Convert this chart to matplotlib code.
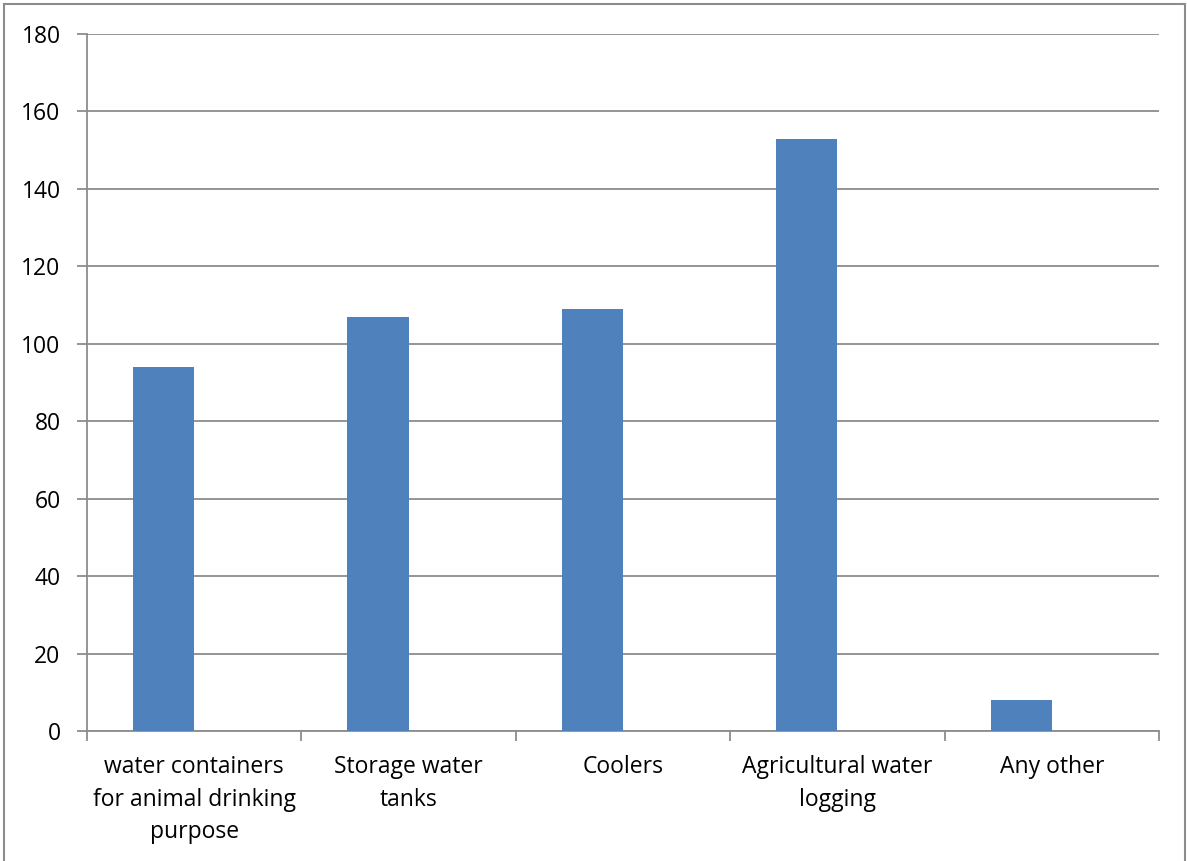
import matplotlib.pyplot as plt
from matplotlib.patches import Rectangle

categories = [
    "water containers\nfor animal drinking\npurpose",
    "Storage water\ntanks",
    "Coolers",
    "Agricultural water\nlogging",
    "Any other",
]
values = [94, 107, 109, 153, 8]
y_ticks = list(range(0, 181, 20))

plt.rcParams['font.family'] = ['Open Sans', 'DejaVu Sans']

W, H = 1187, 861
fig = plt.figure(figsize=(W / 100, H / 100), dpi=100)
ax = fig.add_axes([87 / W, 1 - 731 / H, (1159 - 87) / W, (731 - 34) / H])

bar_w = 1 / 3.5
xs = list(range(len(categories)))
ax.bar([x - bar_w for x in xs], values, width=bar_w, align='edge',
       color='#4F81BD', zorder=3)

grid_c = '#8C8C8C'
ax.set_xlim(-0.5, len(categories) - 0.5)
ax.set_ylim(0, 180)
ax.set_yticks(y_ticks)
ax.yaxis.grid(True, color=grid_c, linewidth=1.3, zorder=0)
ax.set_axisbelow(True)

ax.set_xticks([x - 0.5 for x in range(len(categories) + 1)])
ax.set_xticklabels([])
ax.set_xticks(xs, minor=True)
ax.set_xticklabels(categories, minor=True, fontsize=16.5, linespacing=1.46)
ax.tick_params(axis='x', which='minor', length=0, pad=17.5)
ax.tick_params(axis='x', which='major', length=7, color=grid_c, width=1.3)
ax.tick_params(axis='y', length=7, color=grid_c, width=1.3, labelsize=16.5, pad=12)

for s in ('top', 'right'):
    ax.spines[s].set_visible(False)
for s in ('left', 'bottom'):
    ax.spines[s].set_color(grid_c)
    ax.spines[s].set_linewidth(1.3)

# outer chart frame
fig.patches.append(Rectangle((4 / W, -0.01), (1185 - 4) / W, 1.01 - 4 / H,
                             transform=fig.transFigure, fill=False,
                             edgecolor='#8C8C8C', linewidth=1.5))

fig.savefig('out.png', dpi=100)
